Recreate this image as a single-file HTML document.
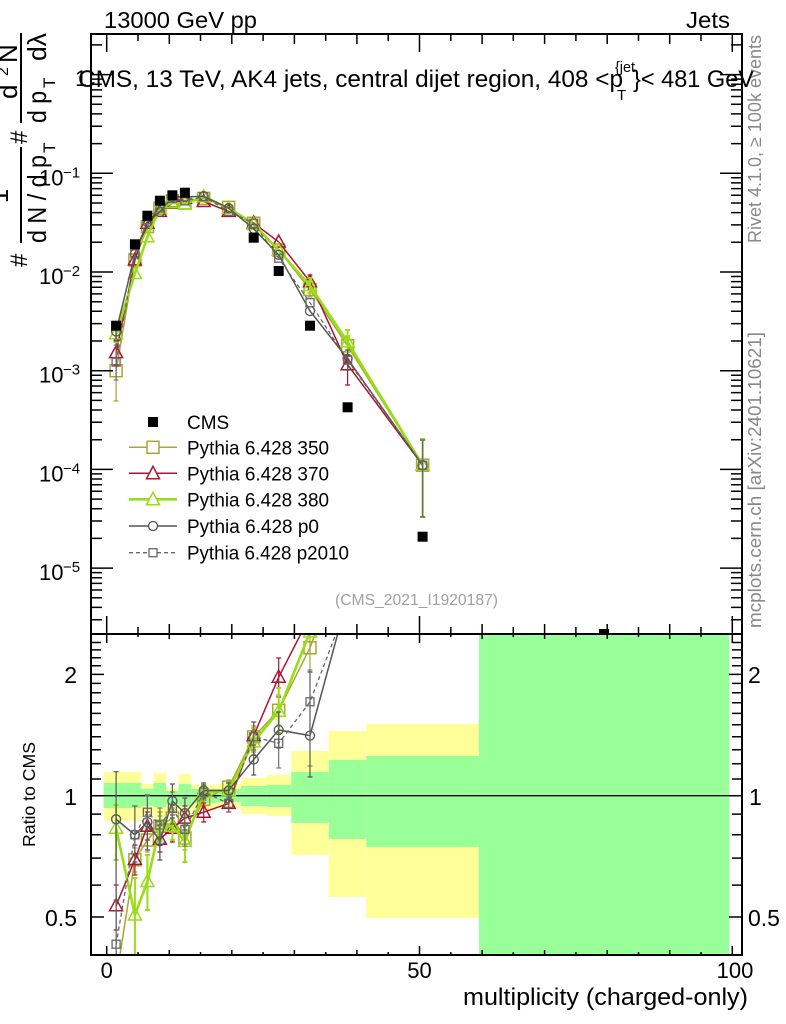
<!DOCTYPE html>
<html><head><meta charset="utf-8"><style>
html,body{margin:0;padding:0;background:#fff;}
svg{display:block;font-family:"Liberation Sans",Arial,Helvetica,sans-serif;}
</style></head><body>
<svg width="786" height="1024" viewBox="0 0 786 1024" xmlns="http://www.w3.org/2000/svg">
<defs>
<clipPath id="cm"><rect x="91" y="34" width="651" height="600"/></clipPath>
<clipPath id="cr"><rect x="91" y="634" width="651" height="321"/></clipPath>
<marker id="m350" markerUnits="userSpaceOnUse" markerWidth="20" markerHeight="20" viewBox="-10 -10 20 20" refX="0" refY="0" overflow="visible"><rect x="-6" y="-6" width="12" height="12" fill="none" stroke="#a8a631" stroke-width="1.5"/></marker>
<marker id="m370" markerUnits="userSpaceOnUse" markerWidth="20" markerHeight="20" viewBox="-10 -10 20 20" refX="0" refY="0" overflow="visible"><polygon points="0,-7 6.5,5 -6.5,5" fill="none" stroke="#ab1432" stroke-width="1.5"/></marker>
<marker id="m380" markerUnits="userSpaceOnUse" markerWidth="20" markerHeight="20" viewBox="-10 -10 20 20" refX="0" refY="0" overflow="visible"><polygon points="0,-7 6.5,5 -6.5,5" fill="none" stroke="#97de14" stroke-width="1.5"/></marker>
<marker id="mp0" markerUnits="userSpaceOnUse" markerWidth="20" markerHeight="20" viewBox="-10 -10 20 20" refX="0" refY="0" overflow="visible"><circle cx="0" cy="0" r="4.5" fill="none" stroke="#555" stroke-width="1.3"/></marker>
<marker id="mp2" markerUnits="userSpaceOnUse" markerWidth="20" markerHeight="20" viewBox="-10 -10 20 20" refX="0" refY="0" overflow="visible"><rect x="-4" y="-4" width="8" height="8" fill="none" stroke="#666" stroke-width="1.3"/></marker>
</defs>

<!-- ratio bands -->
<g clip-path="url(#cr)">
<g fill="#ffff99">
<rect x="103.6" y="772" width="37.5" height="49"/>
<rect x="141.1" y="784" width="12.5" height="31"/>
<rect x="153.6" y="773" width="12.5" height="45"/>
<rect x="166.1" y="788" width="12.5" height="24"/>
<rect x="178.6" y="774" width="12.6" height="44"/>
<rect x="191.2" y="785" width="25" height="25"/>
<rect x="216.2" y="784" width="25" height="24"/>
<rect x="241.2" y="778" width="25" height="36"/>
<rect x="266.2" y="775" width="25.1" height="41"/>
<rect x="291.3" y="751" width="37.5" height="104"/>
<rect x="328.8" y="731" width="37.5" height="166"/>
<rect x="366.3" y="724" width="112.6" height="194"/>
</g>
<g fill="#99ff99">
<rect x="103.6" y="783" width="37.5" height="25"/>
<rect x="141.1" y="789" width="12.5" height="17"/>
<rect x="153.6" y="783" width="12.5" height="24"/>
<rect x="166.1" y="791" width="12.5" height="13"/>
<rect x="178.6" y="784" width="12.6" height="22"/>
<rect x="191.2" y="789" width="25" height="14"/>
<rect x="216.2" y="789" width="25" height="13"/>
<rect x="241.2" y="786" width="25" height="20"/>
<rect x="266.2" y="785" width="25.1" height="22"/>
<rect x="291.3" y="772" width="37.5" height="51"/>
<rect x="328.8" y="760" width="37.5" height="79"/>
<rect x="366.3" y="756" width="112.6" height="91"/>
<rect x="478.9" y="634" width="250.3" height="321"/>
</g>
<path d="M91 795.7H742" stroke="#000" stroke-width="1.3"/>

<!-- ratio series -->
<path fill="none" stroke="#a8a631" stroke-width="1.2" d="M134.9 848V872M132.4 848h5M132.4 872h5M147.4 828V852M144.9 828h5M144.9 852h5M159.9 816V836M157.4 816h5M157.4 836h5M172.4 808V828M169.9 808h5M169.9 828h5M184.9 826V850M182.4 826h5M182.4 850h5M203.7 792V806M201.2 792h5M201.2 806h5M228.7 780V794M226.2 780h5M226.2 794h5M253.7 726V748M251.2 726h5M251.2 748h5M278.7 695V725M276.2 695h5M276.2 725h5M310 634V672M307.5 672h5"/>
<polyline fill="none" stroke="#a8a631" stroke-width="1.5" marker-start="url(#m350)" marker-mid="url(#m350)" marker-end="url(#m350)" points="116.1,979.5 134.9,859.8 147.4,840 159.9,826.2 172.4,818.1 184.9,838 203.7,799.2 228.7,787.2 253.7,736.9 278.7,710.3 310,647.8 347.6,544.6"/>

<path fill="none" stroke="#ab1432" stroke-width="1.2" d="M116.1 885V930M113.6 885h5M113.6 930h5M134.9 845V875M132.4 845h5M132.4 875h5M147.4 812V840M144.9 812h5M144.9 840h5M159.9 826V852M157.4 826h5M157.4 852h5M172.4 815V842M169.9 815h5M169.9 842h5M184.9 806V830M182.4 806h5M182.4 830h5M203.7 803V822M201.2 803h5M201.2 822h5M228.7 795V812M226.2 795h5M226.2 812h5M253.7 722V750M251.2 722h5M251.2 750h5M278.7 658V697M276.2 658h5M276.2 697h5"/>
<polyline fill="none" stroke="#ab1432" stroke-width="1.5" marker-start="url(#m370)" marker-mid="url(#m370)" marker-end="url(#m370)" points="116.1,905.7 134.9,859.4 147.4,826.2 159.9,839.2 172.4,828.3 184.9,818.1 203.7,812.2 228.7,803.4 253.7,735.6 278.7,677.2 310,616 347.6,621.9"/>

<path fill="none" stroke="#97de14" stroke-width="2" d="M116.1 805V860M113.6 805h5M113.6 860h5M134.9 878V955M132.4 878h5M147.4 855V910M144.9 855h5M144.9 910h5M159.9 812V840M157.4 812h5M157.4 840h5M172.4 812V840M169.9 812h5M169.9 840h5M184.9 825V862M182.4 825h5M182.4 862h5M203.7 785V800M201.2 785h5M201.2 800h5M228.7 783V798M226.2 783h5M226.2 798h5M253.7 728V755M251.2 728h5M251.2 755h5M278.7 688V733M276.2 688h5M276.2 733h5"/>
<polyline fill="none" stroke="#97de14" stroke-width="2.6" marker-start="url(#m380)" marker-mid="url(#m380)" marker-end="url(#m380)" points="116.1,828.3 134.9,915 147.4,881.5 159.9,826.2 172.4,826.2 184.9,841.4 203.7,792.2 228.7,790.5 253.7,741.9 278.7,711.3 310,631.9 347.6,528.5"/>

<path fill="none" stroke="#555" stroke-width="1.2" d="M116.1 771.7V955M113.6 771.7h5M134.9 806V862M132.4 806h5M132.4 862h5M147.4 795V850M144.9 795h5M144.9 850h5M159.9 825V860M157.4 825h5M157.4 860h5M172.4 784V818M169.9 784h5M169.9 818h5M184.9 798V830M182.4 798h5M182.4 830h5M203.7 783V798M201.2 783h5M201.2 798h5M228.7 783V798M226.2 783h5M226.2 798h5M253.7 745V775M251.2 745h5M251.2 775h5M278.7 712V748M276.2 712h5M276.2 748h5M310 672V777M307.5 672h5M307.5 777h5"/>
<polyline fill="none" stroke="#555" stroke-width="1.5" marker-start="url(#mp0)" marker-mid="url(#mp0)" marker-end="url(#mp0)" points="116.1,819.3 134.9,834.8 147.4,822.1 159.9,841.4 172.4,801 184.9,813.2 203.7,790.5 228.7,790.5 253.7,759.5 278.7,730 310,735.6 347.6,597.8"/>

<path fill="none" stroke="#666" stroke-width="1.1" d="M116.1 900V955M113.6 900h5M134.9 806V862M132.4 806h5M132.4 862h5M147.4 796V830M144.9 796h5M144.9 830h5M159.9 808V842M157.4 808h5M157.4 842h5M172.4 792V824M169.9 792h5M169.9 824h5M184.9 812V846M182.4 812h5M182.4 846h5M203.7 785V800M201.2 785h5M201.2 800h5M228.7 795V812M226.2 795h5M226.2 812h5M253.7 722V752M251.2 722h5M251.2 752h5M278.7 726V768M276.2 726h5M276.2 768h5M310 670V766M307.5 670h5M307.5 766h5"/>
<polyline fill="none" stroke="#666" stroke-width="1.3" stroke-dasharray="4 3" marker-start="url(#mp2)" marker-mid="url(#mp2)" marker-end="url(#mp2)" points="116.1,944.2 134.9,834.8 147.4,812.2 159.9,825 172.4,808.4 184.9,829.3 203.7,792.2 228.7,803.4 253.7,736.9 278.7,743.3 310,701.8 347.6,603.5"/>
</g>

<!-- main series -->
<g clip-path="url(#cm)">
<path fill="none" stroke="#a8a631" stroke-width="1.2" d="M116.1 340V401M113.6 340h5M113.6 401h5M310 282V297M307.5 282h5M307.5 297h5M347.6 336V356M345.1 336h5M345.1 356h5M422.6 439V517M420.1 439h5M420.1 517h5"/>
<polyline fill="none" stroke="#a8a631" stroke-width="1.5" marker-start="url(#m350)" marker-mid="url(#m350)" marker-end="url(#m350)" points="116.1,370.7 134.9,260 147.4,226.6 159.9,208.2 172.4,200.8 184.9,203.1 203.7,198.4 228.7,207.4 253.7,223.3 278.7,250.1 310,289.5 347.6,345.8 422.6,465.2"/>
<path fill="none" stroke="#ab1432" stroke-width="1.2" d="M116.1 340V365M113.6 340h5M113.6 365h5M310 275V289M307.5 275h5M307.5 289h5M347.6 355V385M345.1 355h5M345.1 385h5M422.6 440V517M420.1 440h5M420.1 517h5"/>
<polyline fill="none" stroke="#ab1432" stroke-width="1.5" marker-start="url(#m370)" marker-mid="url(#m370)" marker-end="url(#m370)" points="116.1,352.6 134.9,259.9 147.4,223.2 159.9,211.4 172.4,203.3 184.9,198.2 203.7,201.5 228.7,211.4 253.7,223 278.7,242 310,281.7 347.6,364.7 422.6,465.2"/>
<path fill="none" stroke="#97de14" stroke-width="2" d="M116.1 325V342M113.6 325h5M113.6 342h5M310 278V293M307.5 278h5M307.5 293h5M347.6 330V352M345.1 330h5M345.1 352h5M422.6 439V517M420.1 439h5M420.1 517h5"/>
<polyline fill="none" stroke="#97de14" stroke-width="2.6" marker-start="url(#m380)" marker-mid="url(#m380)" marker-end="url(#m380)" points="116.1,333.7 134.9,273.5 147.4,236.7 159.9,208.2 172.4,202.8 184.9,203.9 203.7,196.7 228.7,208.2 253.7,224.5 278.7,250.3 310,285.6 347.6,341.9 422.6,465.2"/>
<path fill="none" stroke="#555" stroke-width="1.2" d="M116.1 322V341M113.6 322h5M113.6 341h5M347.6 350V370M345.1 350h5M345.1 370h5M422.6 440V517M420.1 440h5M420.1 517h5"/>
<polyline fill="none" stroke="#555" stroke-width="1.5" marker-start="url(#mp0)" marker-mid="url(#mp0)" marker-end="url(#mp0)" points="116.1,331.5 134.9,253.9 147.4,222.2 159.9,211.9 172.4,196.6 184.9,197 203.7,196.2 228.7,208.2 253.7,228.8 278.7,254.9 310,311 347.6,358.8 422.6,465.2"/>
<path fill="none" stroke="#666" stroke-width="1.1" d="M116.1 345V380M113.6 345h5M113.6 380h5M422.6 440V517M420.1 440h5M420.1 517h5"/>
<polyline fill="none" stroke="#666" stroke-width="1.3" stroke-dasharray="4 3" marker-start="url(#mp2)" marker-mid="url(#mp2)" marker-end="url(#mp2)" points="116.1,362.1 134.9,253.9 147.4,219.7 159.9,207.9 172.4,198.4 184.9,200.9 203.7,196.7 228.7,211.4 253.7,223.3 278.7,258.2 310,302.7 347.6,360.2 422.6,465.2"/>
<!-- CMS data -->
<g fill="#000">
<rect x="111.1" y="320.7" width="10" height="10"/>
<rect x="129.9" y="239.3" width="10" height="10"/>
<rect x="142.4" y="210.7" width="10" height="10"/>
<rect x="154.9" y="195.7" width="10" height="10"/>
<rect x="167.4" y="190.3" width="10" height="10"/>
<rect x="179.9" y="187.7" width="10" height="10"/>
<rect x="248.7" y="232.7" width="10" height="10"/>
<rect x="273.7" y="266" width="10" height="10"/>
<rect x="305" y="320.7" width="10" height="10"/>
<rect x="342.6" y="402.3" width="10" height="10"/>
<rect x="417.6" y="531.7" width="10" height="10"/>
<rect x="599" y="629" width="10" height="6"/>
</g>
</g>

<!-- frames -->
<rect x="91" y="34" width="651" height="600" fill="none" stroke="#000" stroke-width="2"/>
<rect x="91" y="634" width="651" height="321" fill="none" stroke="#000" stroke-width="2"/>

<!-- ticks -->
<path fill="none" stroke="#000" stroke-width="1.5" d="
M106.7 34V52M419.5 34V52M732.3 34V52
M169.3 34V44M231.8 34V44M294.4 34V44M356.9 34V44M482.1 34V44M544.6 34V44M607.2 34V44M669.7 34V44
M138 34V41M200.5 34V41M263.1 34V41M325.7 34V41M388.2 34V41M450.8 34V41M513.3 34V41M575.9 34V41M638.5 34V41M701 34V41
M106.7 634V616M419.5 634V616M732.3 634V616
M169.3 634V624M231.8 634V624M294.4 634V624M356.9 634V624M482.1 634V624M544.6 634V624M607.2 634V624M669.7 634V624
M138 634V627M200.5 634V627M263.1 634V627M325.7 634V627M388.2 634V627M450.8 634V627M513.3 634V627M575.9 634V627M638.5 634V627M701 634V627
M106.7 634V643M419.5 634V643M732.3 634V643
M169.3 634V639M231.8 634V639M294.4 634V639M356.9 634V639M482.1 634V639M544.6 634V639M607.2 634V639M669.7 634V639
M138 634V637M200.5 634V637M263.1 634V637M325.7 634V637M388.2 634V637M450.8 634V637M513.3 634V637M575.9 634V637M638.5 634V637M701 634V637
M106.7 955V946M419.5 955V946M732.3 955V946
M169.3 955V950M231.8 955V950M294.4 955V950M356.9 955V950M482.1 955V950M544.6 955V950M607.2 955V950M669.7 955V950
M138 955V952M200.5 955V952M263.1 955V952M325.7 955V952M388.2 955V952M450.8 955V952M513.3 955V952M575.9 955V952M638.5 955V952M701 955V952
M91 74.6h22M91 173.3h22M91 272h22M91 370.7h22M91 469.4h22M91 568.1h22
M742 74.6h-22M742 173.3h-22M742 272h-22M742 370.7h-22M742 469.4h-22M742 568.1h-22
M91 44.9h11M91 79.1h11M91 84.2h11M91 89.9h11M91 96.5h11M91 104.3h11M91 113.9h11M91 126.2h11M91 143.6h11
M91 177.8h11M91 182.9h11M91 188.6h11M91 195.2h11M91 203h11M91 212.6h11M91 224.9h11M91 242.3h11
M91 276.5h11M91 281.6h11M91 287.3h11M91 293.9h11M91 301.7h11M91 311.3h11M91 323.6h11M91 341h11
M91 375.2h11M91 380.3h11M91 386h11M91 392.6h11M91 400.4h11M91 410h11M91 422.3h11M91 439.7h11
M91 473.9h11M91 479h11M91 484.7h11M91 491.3h11M91 499.1h11M91 508.7h11M91 521h11M91 538.4h11
M91 572.6h11M91 577.7h11M91 583.4h11M91 590h11M91 597.8h11M91 607.4h11M91 619.7h11
M742 44.9h-11M742 79.1h-11M742 84.2h-11M742 89.9h-11M742 96.5h-11M742 104.3h-11M742 113.9h-11M742 126.2h-11M742 143.6h-11
M742 177.8h-11M742 182.9h-11M742 188.6h-11M742 195.2h-11M742 203h-11M742 212.6h-11M742 224.9h-11M742 242.3h-11
M742 276.5h-11M742 281.6h-11M742 287.3h-11M742 293.9h-11M742 301.7h-11M742 311.3h-11M742 323.6h-11M742 341h-11
M742 375.2h-11M742 380.3h-11M742 386h-11M742 392.6h-11M742 400.4h-11M742 410h-11M742 422.3h-11M742 439.7h-11
M742 473.9h-11M742 479h-11M742 484.7h-11M742 491.3h-11M742 499.1h-11M742 508.7h-11M742 521h-11M742 538.4h-11
M742 572.6h-11M742 577.7h-11M742 583.4h-11M742 590h-11M742 597.8h-11M742 607.4h-11M742 619.7h-11
M91 674.4h13M91 795.7h13M91 917h13
M742 674.4h-13M742 795.7h-13M742 917h-13
M91 642.5h10M91 649.9h10M91 657.7h10M91 665.8h10M91 683.4h10M91 692.8h10M91 702.8h10M91 713.4h10M91 724.7h10M91 736.8h10M91 749.8h10M91 763.8h10M91 779h10M91 814.1h10M91 834.8h10M91 858.1h10M91 885.1h10
M742 642.5h-10M742 649.9h-10M742 657.7h-10M742 665.8h-10M742 683.4h-10M742 692.8h-10M742 702.8h-10M742 713.4h-10M742 724.7h-10M742 736.8h-10M742 749.8h-10M742 763.8h-10M742 779h-10M742 814.1h-10M742 834.8h-10M742 858.1h-10M742 885.1h-10
"/>

<!-- header texts -->
<text x="104" y="28" font-size="23" textLength="153" lengthAdjust="spacingAndGlyphs">13000 GeV pp</text>
<text x="686" y="28" font-size="23" textLength="44" lengthAdjust="spacingAndGlyphs">Jets</text>
<text x="75" y="86" font-size="22">1</text>
<text x="78" y="87" font-size="24" textLength="545" lengthAdjust="spacingAndGlyphs">CMS, 13 TeV, AK4 jets, central dijet region, 408 &lt;p</text>
<text x="615" y="72" font-size="15" textLength="20" lengthAdjust="spacingAndGlyphs">{jet</text>
<text x="617" y="100" font-size="15">T</text>
<text x="633" y="87" font-size="24" textLength="121" lengthAdjust="spacingAndGlyphs">}&lt; 481 GeV</text>

<!-- y tick labels main -->
<g font-size="22">
<text x="39" y="185.3">10</text><text x="63" y="177.3" font-size="15">−1</text>
<text x="39" y="284">10</text><text x="63" y="276" font-size="15">−2</text>
<text x="39" y="382.7">10</text><text x="63" y="374.7" font-size="15">−3</text>
<text x="39" y="481.4">10</text><text x="63" y="473.4" font-size="15">−4</text>
<text x="39" y="580.1">10</text><text x="63" y="572.1" font-size="15">−5</text>
</g>

<!-- ratio labels -->
<g font-size="23">
<text x="77" y="683" text-anchor="end">2</text>
<text x="77" y="805" text-anchor="end">1</text>
<text x="77" y="926" text-anchor="end">0.5</text>
<text x="748" y="683">2</text>
<text x="749" y="805">1</text>
<text x="748" y="926">0.5</text>
</g>
<text transform="translate(35,847) rotate(-90)" font-size="17.5" textLength="105" lengthAdjust="spacingAndGlyphs">Ratio to CMS</text>

<!-- x labels -->
<g font-size="22" text-anchor="middle">
<text x="106.7" y="978">0</text>
<text x="419.5" y="978">50</text>
<text x="735" y="978">100</text>
</g>
<text x="748" y="1005" font-size="24" text-anchor="end" textLength="285" lengthAdjust="spacingAndGlyphs">multiplicity (charged-only)</text>

<!-- side texts -->
<text transform="translate(761,243) rotate(-90)" font-size="18" fill="#888" textLength="208" lengthAdjust="spacingAndGlyphs">Rivet 4.1.0, ≥ 100k events</text>
<text transform="translate(761,628) rotate(-90)" font-size="18" fill="#888" textLength="296" lengthAdjust="spacingAndGlyphs">mcplots.cern.ch [arXiv:2401.10621]</text>
<text x="335" y="605" font-size="15.5" fill="#a0a0a0" textLength="163" lengthAdjust="spacingAndGlyphs">(CMS_2021_I1920187)</text>

<!-- y axis label main -->
<rect x="20" y="147" width="2" height="96" fill="#000"/>
<rect x="20" y="33" width="2" height="90" fill="#000"/>
<g transform="rotate(-90)" font-size="26">
<text x="-267" y="27" font-size="24">#</text>
<text x="-196" y="8" text-anchor="middle">1</text>
<text x="-243" y="46" textLength="88" lengthAdjust="spacingAndGlyphs">d N / d p</text>
<text x="-153" y="55" font-size="17">T</text>
<text x="-144" y="27" font-size="24">#</text>
<text x="-99" y="17">d</text>
<text x="-76" y="8" font-size="16">2</text>
<text x="-63" y="17">N</text>
<text x="-123" y="46" textLength="32" lengthAdjust="spacingAndGlyphs">d p</text>
<text x="-88" y="55" font-size="17">T</text>
<text x="-61" y="46" textLength="28" lengthAdjust="spacingAndGlyphs">dλ</text>
</g>

<!-- legend -->
<g font-size="19">
<rect x="148" y="417" width="10" height="10" fill="#000"/>
<text x="187" y="429">CMS</text>
<path d="M129 447.3H177" stroke="#a8a631" stroke-width="1.5"/>
<rect x="147" y="441.3" width="12" height="12" fill="#fff" stroke="#a8a631" stroke-width="1.5"/>
<text x="187" y="454.3" textLength="142" lengthAdjust="spacingAndGlyphs">Pythia 6.428 350</text>
<path d="M129 473.3H177" stroke="#ab1432" stroke-width="1.5"/>
<polygon points="153,466.3 159.5,478.8 146.5,478.8" fill="#fff" stroke="#ab1432" stroke-width="1.5"/>
<text x="187" y="480.3" textLength="142" lengthAdjust="spacingAndGlyphs">Pythia 6.428 370</text>
<path d="M129 499.3H177" stroke="#97de14" stroke-width="2.6"/>
<polygon points="153,492.3 159.5,504.8 146.5,504.8" fill="#fff" stroke="#97de14" stroke-width="1.5"/>
<text x="187" y="506.3" textLength="142" lengthAdjust="spacingAndGlyphs">Pythia 6.428 380</text>
<path d="M129 526H177" stroke="#555" stroke-width="1.5"/>
<circle cx="153" cy="526" r="4.5" fill="#fff" stroke="#555" stroke-width="1.3"/>
<text x="187" y="533" textLength="132" lengthAdjust="spacingAndGlyphs">Pythia 6.428 p0</text>
<path d="M129 552.7H177" stroke="#666" stroke-width="1.3" stroke-dasharray="4 3"/>
<rect x="149" y="548.7" width="8" height="8" fill="#fff" stroke="#666" stroke-width="1.3"/>
<text x="187" y="559.7" textLength="162" lengthAdjust="spacingAndGlyphs">Pythia 6.428 p2010</text>
</g>
</svg>
</body></html>
